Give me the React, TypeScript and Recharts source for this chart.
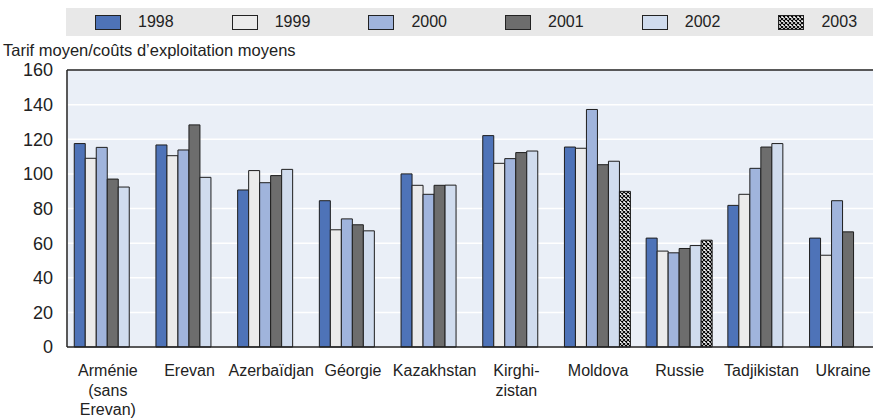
import { BarChart, Bar, XAxis, YAxis, CartesianGrid, Legend, ReferenceLine } from "recharts"

// country groups (line breaks as in the source)
const countries = [
  "Arménie\n(sans\nErevan)",
  "Erevan",
  "Azerbaïdjan",
  "Géorgie",
  "Kazakhstan",
  "Kirghi-\nzistan",
  "Moldova",
  "Russie",
  "Tadjikistan",
  "Ukraine",
]

const years = ["1998", "1999", "2000", "2001", "2002", "2003"]

const v1998 = [117.5, 116.7, 90.7, 84.5, 100, 122.1, 115.5, 62.9, 81.8, 62.9]
const v1999 = [109, 110.5, 101.9, 67.7, 93.4, 106.1, 114.8, 55.4, 88.2, 53]
const v2000 = [115.3, 113.8, 94.9, 74, 88.2, 108.8, 137.2, 54.4, 103.2, 84.5]
const v2001 = [97, 128.3, 99, 70.6, 93.4, 112.3, 105.3, 56.9, 115.5, 66.5]
const v2002 = [92.4, 98, 102.6, 67.1, 93.5, 113.2, 107.3, 58.6, 117.5, null]
const v2003 = [null, null, null, null, null, null, 89.9, 61.7, null, null]

const yTicks = [0, 20, 40, 60, 80, 100, 120, 140, 160]
const boundaryTicks = [1, 2, 3, 4, 5, 6, 7, 8, 9]

const series = [v1998, v1999, v2000, v2001, v2002, v2003]
const colors = ["#4e73b8", "#ebebeb", "#a0b4dc", "#6d6d6d", "#d0dcee", "url(#checker)"]

const data = countries.map((name, i) => {
  const row: Record<string, any> = { name }
  years.forEach((y, k) => {
    row["y" + y] = series[k][i]
  })
  return row
})

const font = "'Liberation Sans', Arial, sans-serif"

function CountryTick(props: any) {
  const { x, y, payload } = props
  const lines = String(payload.value).split("\n")
  return (
    <text x={x} y={y} textAnchor="middle" fill="#222" fontSize={16} fontFamily={font}>
      {lines.map((l, i) => (
        <tspan key={i} x={x} y={y + 29 + i * 19.5}>
          {l}
        </tspan>
      ))}
    </text>
  )
}

function LegendBox() {
  return (
    <div
      style={{
        display: "flex",
        alignItems: "center",
        height: 28,
        background: "#e8e8e8",
        paddingLeft: 29,
        boxSizing: "border-box",
      }}
    >
      {years.map((y, k) => (
        <div key={y} style={{ display: "flex", alignItems: "center", width: 136.7, flex: "none" }}>
          <svg width={26} height={15} style={{ marginRight: 17, display: "block" }}>
            <rect x={0.5} y={0.5} width={25} height={14} fill={colors[k]} stroke="#222" strokeWidth={1} />
          </svg>
          <span style={{ fontFamily: font, fontSize: 16, color: "#222" }}>{y}</span>
        </div>
      ))}
    </div>
  )
}

export default function App() {
  return (
    <div style={{ position: "absolute", left: 0, top: 0, width: 873, height: 419, overflow: "hidden", background: "#fff" }}>
      <svg width={0} height={0} style={{ position: "absolute" }}>
        <defs>
          <pattern id="checker" width={4} height={4} patternUnits="userSpaceOnUse">
            <rect width={4} height={4} fill="#fff" />
            <path d="M0,0 L4,4 M4,0 L0,4" stroke="#000" strokeWidth={1.1} />
          </pattern>
        </defs>
      </svg>
      <BarChart
        width={900}
        height={419}
        data={data}
        margin={{ top: 70, right: 16, bottom: 0, left: 0 }}
        barCategoryGap={7.25}
        barGap={0}
      >
        <CartesianGrid fill="#eaeff7" stroke="#ffffff" strokeWidth={1.5} xAxisId="b" />
        <XAxis
          dataKey="name"
          height={72}
          interval={0}
          tick={<CountryTick />}
          tickLine={false}
          tickSize={0}
          tickMargin={0}
          axisLine={{ stroke: "#222", strokeWidth: 1.5 }}
        />
        <XAxis
          xAxisId="b"
          type="number"
          domain={[0, 10]}
          ticks={boundaryTicks}
          allowDataOverflow
          mirror
          tick={false}
          axisLine={false}
          tickSize={5}
          tickLine={{ stroke: "#333", strokeWidth: 1 }}
        />
        <YAxis
          width={67}
          domain={[0, 160]}
          ticks={yTicks}
          interval={0}
          tickLine={false}
          tickSize={0}
          tickMargin={14}
          axisLine={{ stroke: "#222", strokeWidth: 1.5 }}
          tick={{ fill: "#222", fontSize: 18, fontFamily: font }}
          label={{
            content: () => (
              <text x={3} y={56} fill="#222" fontSize={16.5} fontFamily={font}>
                Tarif moyen/coûts d’exploitation moyens
              </text>
            ),
          }}
        />
        <YAxis
          yAxisId="m"
          domain={[0, 160]}
          ticks={yTicks}
          mirror
          tick={false}
          axisLine={false}
          tickSize={6}
          tickLine={{ stroke: "#888", strokeWidth: 1.5 }}
        />
        <ReferenceLine y={160} stroke="#222" strokeWidth={1.5} />
        <Legend
          verticalAlign="middle"
          align="center"
          layout="horizontal"
          content={() => <LegendBox />}
          wrapperStyle={{ top: 8, left: 66, width: 807, height: 28 }}
        />
        {years.map((y, k) => (
          <Bar
            key={y}
            dataKey={"y" + y}
            name={y}
            fill={colors[k]}
            stroke="#1e1e1e"
            strokeWidth={1}
            isAnimationActive={false}
          />
        ))}
      </BarChart>
    </div>
  )
}
